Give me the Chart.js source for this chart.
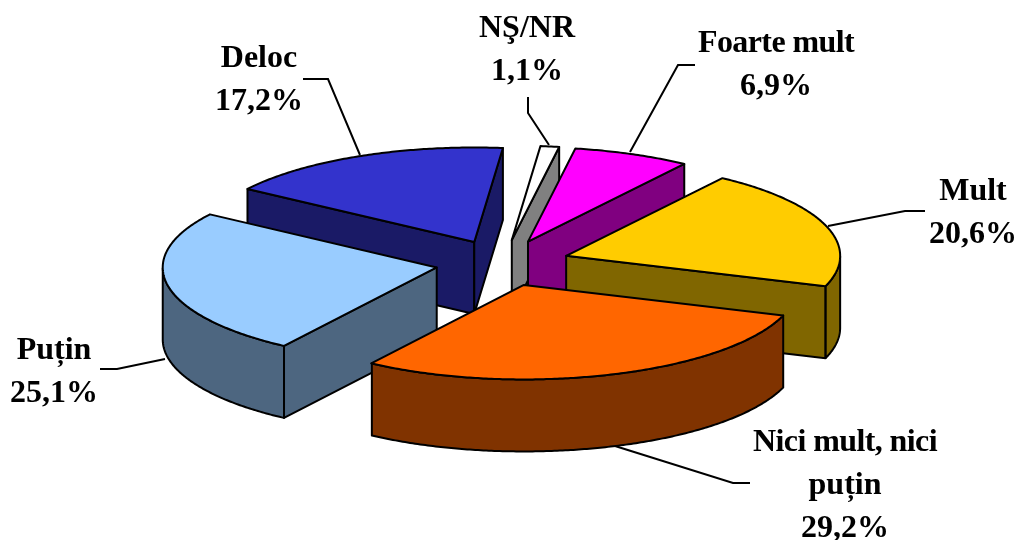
<!DOCTYPE html>
<html>
<head>
<meta charset="utf-8">
<title>Pie</title>
<script src="https://cdn.jsdelivr.net/npm/chart.js@4"></script>
<style>
  body { margin: 0; background: #fff; }
  #myChart { display: block; }
</style>
</head>
<body>
<canvas id="myChart" width="1017" height="540"></canvas>
<script>
// values, clockwise from the top
const categories = ["NŞ/NR", "Foarte mult", "Mult", "Nici mult, nici puțin", "Puțin", "Deloc"];
const values = [1.1, 6.9, 20.6, 29.2, 25.1, 17.2];
const topColors = ["#FFFFFF", "#FF00FF", "#FFCC00", "#FF6600", "#99CCFF", "#3333CC"];
const wallColors = ["#808080", "#800080", "#806600", "#803300", "#4D6680", "#1A1A66"];

// label layout, same order as categories
const labelLines = [["NŞ/NR"], ["Foarte mult"], ["Mult"], ["Nici mult, nici", "puțin"], ["Puțin"], ["Deloc"]];
const labelX = [527, 776, 973, 845, 54, 259];
const labelY = [29, 44, 192, 443, 351, 59];
const leaders = [
  [[528, 97], [528, 113], [549, 145]],
  [[695, 65], [678, 65], [630, 152]],
  [[925, 211], [905, 211], [828, 226]],
  [[750, 483], [733, 483], [615, 446]],
  [[100, 369], [117, 369], [165, 359]],
  [[303, 79], [328, 79], [360, 155]],
];

// fake 3D settings
const squash = 0.345;
const explode = 67;
const depth = 72;
const centerY = 263;

function slicePoint(arc, angle) {
  const mid = (arc.startAngle + arc.endAngle) / 2;
  const x = arc.x + Math.cos(mid) * explode;
  const y = centerY + Math.sin(mid) * explode * squash;
  if (angle === null) return [x, y];
  return [x + Math.cos(angle) * arc.outerRadius, y + Math.sin(angle) * arc.outerRadius * squash];
}

function tracePoly(ctx, pts, fill) {
  ctx.beginPath();
  pts.forEach((p, i) => (i ? ctx.lineTo(p[0], p[1]) : ctx.moveTo(p[0], p[1])));
  ctx.closePath();
  if (fill) {
    ctx.fillStyle = fill;
    ctx.fill();
  }
  ctx.stroke();
}

function drawWalls(ctx, arc, color) {
  const apex = slicePoint(arc, null);
  const a0 = arc.startAngle;
  const a1 = arc.endAngle;
  // flat cut faces, only the ones turned to the viewer
  [[a0, a0 - Math.PI / 2], [a1, a1 + Math.PI / 2]].forEach(([a, normal]) => {
    if (Math.sin(normal) <= 0) return;
    const p = slicePoint(arc, a);
    tracePoly(ctx, [apex, p, [p[0], p[1] + depth], [apex[0], apex[1] + depth]], color);
  });
  // rounded outside, front half only
  const rim = [];
  for (let a = a0; a <= a1 + 0.0001; a += 0.01) {
    if (Math.sin(a) >= 0) rim.push(slicePoint(arc, Math.min(a, a1)));
  }
  if (rim.length > 1) {
    const under = rim.slice().reverse().map((p) => [p[0], p[1] + depth]);
    tracePoly(ctx, rim.concat(under), color);
  }
}

function drawTop(ctx, arc) {
  const mid = (arc.startAngle + arc.endAngle) / 2;
  ctx.save();
  ctx.translate(Math.cos(mid) * explode, centerY + Math.sin(mid) * explode * squash);
  ctx.scale(1, squash);
  ctx.translate(0, -arc.y);
  arc.draw(ctx);
  ctx.restore();

  // outline in screen space so the line is not squashed too
  const pts = [slicePoint(arc, null)];
  for (let a = arc.startAngle; a < arc.endAngle; a += 0.01) pts.push(slicePoint(arc, a));
  pts.push(slicePoint(arc, arc.endAngle));
  tracePoly(ctx, pts, null);
}

const pie3d = {
  id: "pie3d",
  beforeDatasetsDraw(chart) {
    const ctx = chart.ctx;
    const arcs = chart.getDatasetMeta(0).data;
    const order = arcs.map((arc, i) => i).sort((a, b) => {
      const midA = (arcs[a].startAngle + arcs[a].endAngle) / 2;
      const midB = (arcs[b].startAngle + arcs[b].endAngle) / 2;
      return Math.sin(midA) - Math.sin(midB);
    });
    ctx.save();
    ctx.strokeStyle = "#000";
    ctx.lineWidth = 2;
    ctx.lineJoin = "round";
    order.forEach((i) => {
      drawWalls(ctx, arcs[i], wallColors[i]);
      drawTop(ctx, arcs[i]);
    });
    ctx.restore();
    return false;
  },
  afterDraw(chart) {
    const ctx = chart.ctx;
    ctx.save();
    ctx.strokeStyle = "#000";
    ctx.lineWidth = 2;
    leaders.forEach((line) => {
      ctx.beginPath();
      line.forEach((p, i) => (i ? ctx.lineTo(p[0], p[1]) : ctx.moveTo(p[0], p[1])));
      ctx.stroke();
    });
    ctx.fillStyle = "#000";
    ctx.font = "bold 32px 'Liberation Serif'";
    ctx.textAlign = "center";
    ctx.textBaseline = "middle";
    categories.forEach((name, i) => {
      const lines = labelLines[i].concat(values[i].toFixed(1).replace(".", ",") + "%");
      lines.forEach((text, k) => {
        // the lines with two words sit tighter in the original
        ctx.letterSpacing = text.includes(" ") ? "-0.6px" : "0px";
        ctx.fillText(text, labelX[i], labelY[i] + k * 43);
      });
    });
    ctx.restore();
  },
};

new Chart(document.getElementById("myChart").getContext("2d"), {
  type: "pie",
  data: {
    labels: categories,
    datasets: [
      {
        data: values,
        backgroundColor: topColors,
        borderWidth: 0,
      },
    ],
  },
  options: {
    responsive: false,
    animation: false,
    rotation: 6,
    radius: 274,
    layout: { padding: { right: 12 } },
    plugins: { legend: { display: false }, tooltip: { enabled: false } },
  },
  plugins: [pie3d],
});
</script>
</body>
</html>
